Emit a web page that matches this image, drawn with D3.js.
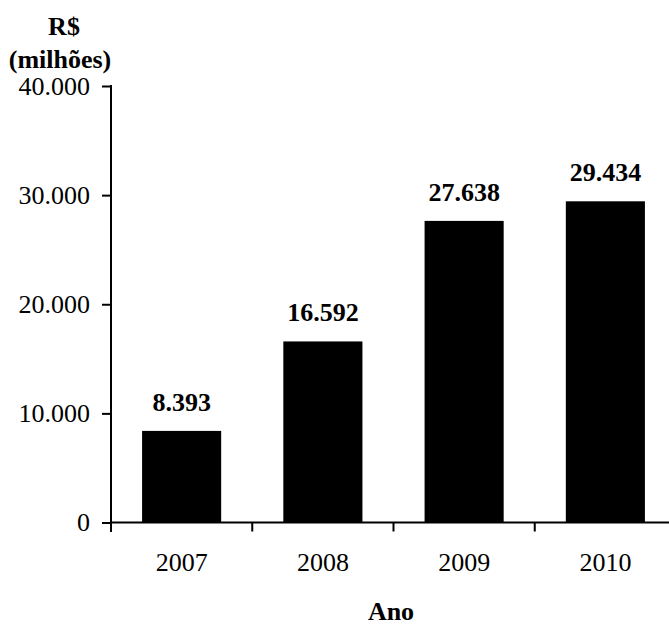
<!DOCTYPE html>
<html>
<head>
<meta charset="utf-8">
<script src="https://cdn.jsdelivr.net/npm/d3@7"></script>
<style>
  body { margin: 0; background: #fff; }
  svg text { font-family: "Liberation Serif", "Times New Roman", serif; fill: #000; }
</style>
</head>
<body>
<svg id="chart" width="669" height="626"></svg>
<script>
// data
var years = ['2007', '2008', '2009', '2010'];
var values = [8393, 16592, 27638, 29434];
var yTicks = [0, 10000, 20000, 30000, 40000];

var svg = d3.select('#chart');

var x = d3.scaleBand()
  .domain(years)
  .range([111, 676])
  .paddingInner(0.44)
  .paddingOuter(0.22);

var y = d3.scaleLinear().domain([0, 40000]).range([522.5, 86]);

var fmt = function(v) { return d3.format(',')(v).replace(/,/g, '.'); };

// bars
svg.selectAll('.bar')
  .data(values)
  .enter().append('rect')
  .attr('class', 'bar')
  .attr('x', function(d, i) { return x(years[i]); })
  .attr('y', function(d) { return y(d); })
  .attr('width', x.bandwidth())
  .attr('height', function(d) { return y(0) - y(d); })
  .attr('fill', '#000');

// value labels
svg.selectAll('.lbl')
  .data(values)
  .enter().append('text')
  .attr('class', 'lbl')
  .attr('x', function(d, i) { return x(years[i]) + x.bandwidth() / 2; })
  .attr('y', function(d) { return y(d) - 20; })
  .attr('text-anchor', 'middle')
  .style('font-size', '26px')
  .style('font-weight', 'bold')
  .text(function(d) { return fmt(d); });

// y axis
var yAxis = d3.axisLeft(y)
  .tickValues(yTicks)
  .tickSize(9)
  .tickSizeOuter(0)
  .tickPadding(12)
  .tickFormat(function(d) { return d === 0 ? '0' : fmt(d); });

var gy = svg.append('g')
  .attr('transform', 'translate(111,0)')
  .call(yAxis);
gy.select('.domain').remove();
gy.selectAll('.tick line').attr('stroke', '#000').attr('stroke-width', 2);
gy.selectAll('.tick text')
  .style('font-size', '26px')
  .style('font-family', '"Liberation Serif", serif')
  .attr('fill', '#000');

svg.append('line')
  .attr('x1', 111).attr('x2', 111)
  .attr('y1', y(40000) - 1).attr('y2', y(0) + 9.5)
  .attr('stroke', '#000').attr('stroke-width', 2);

// x axis
var xAxis = d3.axisBottom(x).tickSize(0).tickPadding(30);
var gx = svg.append('g')
  .attr('transform', 'translate(0,' + y(0) + ')')
  .call(xAxis);
gx.select('.domain').remove();
gx.selectAll('.tick text')
  .style('font-size', '26px')
  .style('font-family', '"Liberation Serif", serif')
  .attr('fill', '#000');

svg.append('line')
  .attr('x1', 110).attr('x2', 676)
  .attr('y1', y(0)).attr('y2', y(0))
  .attr('stroke', '#000').attr('stroke-width', 2);

// category boundary ticks
var bounds = years.slice(1).map(function(d) { return x(d) - x.step() * x.paddingInner() / 2; });
svg.selectAll('.btick')
  .data(bounds)
  .enter().append('line')
  .attr('class', 'btick')
  .attr('x1', function(d) { return d; })
  .attr('x2', function(d) { return d; })
  .attr('y1', y(0))
  .attr('y2', y(0) + 9)
  .attr('stroke', '#000').attr('stroke-width', 2);

// titles
svg.append('text')
  .attr('x', 64).attr('y', 35)
  .attr('text-anchor', 'middle')
  .style('font-size', '26px').style('font-weight', 'bold')
  .text('R$');
svg.append('text')
  .attr('x', 60).attr('y', 68)
  .attr('text-anchor', 'middle')
  .style('font-size', '26px').style('font-weight', 'bold')
  .text('(milhões)');
svg.append('text')
  .attr('x', 391).attr('y', 620)
  .attr('text-anchor', 'middle')
  .style('font-size', '26px').style('font-weight', 'bold')
  .text('Ano');
</script>
</body>
</html>
